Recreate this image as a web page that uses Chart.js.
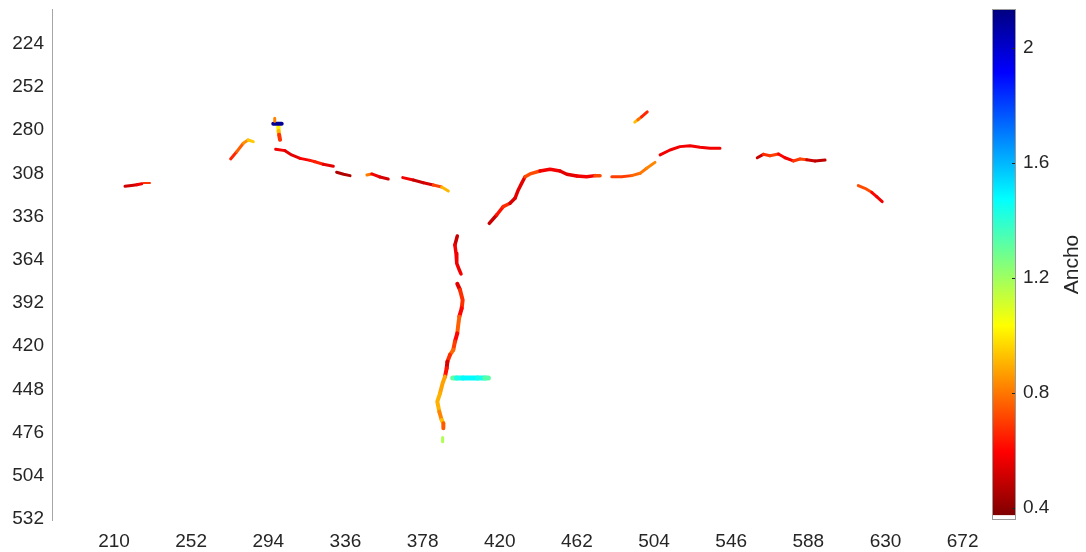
<!DOCTYPE html>
<html>
<head>
<meta charset="utf-8">
<script src="https://cdn.jsdelivr.net/npm/chart.js@4.4.1/dist/chart.umd.min.js"></script>
<style>
  html, body { margin: 0; padding: 0; background: #ffffff; }
  #wrap { width: 1086px; height: 552px; }
</style>
</head>
<body>
<div id="wrap"><canvas id="c" width="1086" height="552"></canvas></div>
<script>
// ---------- tick labels ----------
const xTicks = [210, 252, 294, 336, 378, 420, 462, 504, 546, 588, 630, 672];
const yTicks = [224, 252, 280, 308, 336, 364, 392, 420, 448, 476, 504, 532];
const cbTicks = [0.4, 0.8, 1.2, 1.6, 2];
const cbLabel = 'Ancho';

// ---------- crack traces: [x, y, ancho] ----------
const crackA1 = [[216.0,316.4,0.55],[219.5,315.9,0.48],[222.5,315.4,0.55],[225.1,314.8,0.6]];
const crackA2 = [[226.0,314.3,0.72],[229.6,314.3,0.65]];
const crackB  = [[273.5,298.7,0.6],[276.8,294.0,0.72],[280.4,288.5,0.8],[283.0,286.4,0.88],[285.8,287.5,1.0]];
const crackC1 = [[297.5,272.3,0.82],[297.5,274.3,0.82]];
const crackC2 = [[296.7,275.8,2.1],[301.3,275.8,2.1]];
const crackC3 = [[299.4,277.6,1.02],[299.6,280.5,1.0],[299.9,283.0,0.82],[300.4,286.3,0.55]];
const crackD1 = [[298.0,292.4,0.55],[303.1,293.3,0.6],[306.7,296.1,0.5],[311.3,298.3,0.6],[316.7,299.6,0.58],[319.4,300.5,0.7],[323.9,302.1,0.6],[329.4,303.4,0.5]];
const crackD2 = [[331.2,307.3,0.5],[335.0,308.6,0.42],[338.5,309.5,0.5]];
const crackD3 = [[347.7,309.1,1.02],[350.3,308.4,0.6],[354.8,310.4,0.55],[359.3,311.7,0.5]];
const crackD4 = [[367.2,310.8,0.6],[372.9,312.3,0.55],[378.4,314.1,0.45],[383.8,315.6,0.6],[388.4,316.9,0.82],[392.0,319.5,1.0]];
const crackE  = [[493.5,274.8,1.0],[495.2,273.3,0.85],[497.2,271.4,0.72],[500.3,268.2,0.6]];
const crackF1 = [[414.3,340.4,0.55],[418.3,335.0,0.45],[421.9,329.6,0.8],[425.6,327.4,0.55],[428.3,324.2,0.5],[430.1,318.8,0.6],[431.9,314.5,0.5],[433.8,310.2,0.6],[436.5,308.4,0.85],[441.9,306.5,0.6],[447.4,305.4,0.55],[452.8,306.5,0.6],[456.5,308.6,0.5],[461.9,309.7,0.6],[467.3,310.2,0.55],[471.9,309.5,0.6],[474.6,309.5,0.85]];
const crackF2 = [[481.0,310.2,0.8],[486.4,310.2,0.6],[491.8,309.5,0.8],[496.4,308.0,0.75],[500.0,304.7,0.85],[504.5,300.9,0.8]];
const crackF3 = [[507.3,296.1,0.55],[512.7,292.9,0.6],[518.1,290.7,0.55],[523.6,290.1,0.6],[529.0,291.1,0.55],[534.5,291.8,0.6],[539.9,291.8,0.55]];
const crackG  = [[560.2,297.9,0.45],[563.5,295.7,0.55],[567.1,296.6,0.8],[571.7,295.5,0.6],[575.3,297.9,0.6],[579.8,300.0,0.55],[583.5,298.7,0.82],[587.1,299.2,0.6],[591.6,300.0,0.42],[597.1,299.4,0.55]];
const crackH  = [[615.2,316.0,0.6],[618.8,317.7,0.85],[622.5,320.3,0.6],[625.2,323.1,0.6],[628.2,326.4,0.55]];
const crackI1 = [[396.9,348.6,0.45],[395.6,354.5,0.55],[396.2,359.8,0.6],[396.6,366.3,0.55],[398.0,370.7,0.6],[398.9,373.2,0.55]];
const crackI2 = [[396.9,379.7,0.5],[398.4,383.6,0.6],[399.8,390.1,0.75],[399.3,395.5,0.6],[398.0,400.9,0.6],[397.4,406.3,0.92],[396.9,411.7,0.6],[395.6,417.1,0.6],[394.7,422.5,0.8],[392.9,425.7,0.75],[391.5,430.1,0.6],[391.1,434.4,0.45],[390.2,439.8,0.8],[388.9,444.1,0.95],[387.5,450.6,0.8],[386.0,456.0,1.0],[387.1,462.5,0.8],[388.4,467.9,0.85],[389.3,470.0,1.0],[389.3,473.3,0.5]];
const crackI3 = [[388.9,479.3,1.2],[388.9,482.0,1.15]];
const crackJ  = [[394.4,440.6,1.22],[396.5,440.6,1.4],[400.0,440.6,1.48],[408.0,440.6,1.48],[412.0,440.6,1.4],[413.8,440.6,1.25]];

// ---------- axis ranges ----------
const X_MIN = 176.25, X_MAX = 701.05;
const Y_MIN = 201.5, Y_MAX = 532.7;
const CB_MIN = 0.358, CB_MAX = 2.136;
const C_LOW = 0.375; // below this the colormap is white

// ---------- styles (kept apart from data) ----------
const traces = [
  { data: crackA1, lw: 3 }, { data: crackA2, lw: 2 }, { data: crackB, lw: 3 },
  { data: crackC1, lw: 3 }, { data: crackC2, lw: 4 }, { data: crackC3, lw: 4 },
  { data: crackD1, lw: 3 }, { data: crackD2, lw: 3 }, { data: crackD3, lw: 3 }, { data: crackD4, lw: 3 },
  { data: crackE, lw: 3 },
  { data: crackF1, lw: 3.5 }, { data: crackF2, lw: 3 }, { data: crackF3, lw: 3 },
  { data: crackG, lw: 3 }, { data: crackH, lw: 3 },
  { data: crackI1, lw: 3.5 }, { data: crackI2, lw: 4 }, { data: crackI3, lw: 3 },
  { data: crackJ, lw: 5 }
];

const TEXT = '#262626';
const FONT = "'Liberation Sans', Arial, Helvetica, sans-serif";

function clamp01(v) { return Math.max(0, Math.min(1, v)); }
function jet(t) {
  const r = clamp01(1.5 - Math.abs(4 * t - 3));
  const g = clamp01(1.5 - Math.abs(4 * t - 2));
  const b = clamp01(1.5 - Math.abs(4 * t - 1));
  return 'rgb(' + Math.round(r * 255) + ',' + Math.round(g * 255) + ',' + Math.round(b * 255) + ')';
}
function valueColor(v) {
  if (v < C_LOW) return '#ffffff';
  const s = clamp01((v - C_LOW) / (CB_MAX - C_LOW));
  return jet(1 - s);
}

const datasets = traces.map(tr => ({
  data: tr.data.map(p => ({ x: p[0], y: p[1], w: p[2] })),
  showLine: true,
  pointRadius: 0,
  pointHoverRadius: 0,
  borderWidth: tr.lw,
  borderCapStyle: 'round',
  borderJoinStyle: 'round',
  borderColor: valueColor(tr.data[0][2]),
  tension: 0,
  xAxisID: 'x',
  yAxisID: 'y',
  segment: {
    borderColor: ctx => valueColor((ctx.p0.raw.w + ctx.p1.raw.w) / 2)
  }
}));

const colorbarPlugin = {
  id: 'colorbar',
  afterDraw(chart) {
    const ctx = chart.ctx, cb = chart.scales.cb, area = chart.chartArea;
    const x1 = area.right, x0 = x1 - 24;
    const yTop = cb.getPixelForValue(CB_MAX), yBot = cb.getPixelForValue(CB_MIN);
    const yLo = cb.getPixelForValue(C_LOW);
    ctx.save();
    ctx.fillStyle = '#ffffff';
    ctx.fillRect(x0, yLo, 24, yBot - yLo);
    const g = ctx.createLinearGradient(0, yLo, 0, yTop);
    [0, 0.125, 0.375, 0.625, 0.875, 1].forEach(s => g.addColorStop(s, jet(1 - s)));
    ctx.fillStyle = g;
    ctx.fillRect(x0, yTop, 24, yLo - yTop);
    ctx.strokeStyle = '#9a9a9a';
    ctx.lineWidth = 1;
    ctx.strokeRect(x0 + 0.5, yTop + 0.5, 23, yBot - yTop - 1);
    ctx.strokeStyle = TEXT;
    cbTicks.forEach(t => {
      const y = Math.round(cb.getPixelForValue(t)) + 0.5;
      ctx.beginPath();
      ctx.moveTo(x1 - 4, y);
      ctx.lineTo(x1 - 1, y);
      ctx.stroke();
    });
    ctx.fillStyle = TEXT;
    ctx.font = '21px ' + FONT;
    ctx.textAlign = 'center';
    ctx.textBaseline = 'middle';
    ctx.translate(1072, (yTop + yBot) / 2);
    ctx.rotate(-Math.PI / 2);
    ctx.fillText(cbLabel, 0, 0);
    ctx.restore();
  }
};

function noPad(s) { s.paddingTop = 0; s.paddingBottom = 0; s.paddingLeft = 0; s.paddingRight = 0; }

new Chart(document.getElementById('c'), {
  type: 'scatter',
  data: { datasets },
  plugins: [colorbarPlugin],
  options: {
    responsive: false,
    animation: false,
    devicePixelRatio: 1,
    layout: { padding: { top: 9, left: 0, right: 0, bottom: 0 } },
    plugins: { legend: { display: false }, tooltip: { enabled: false } },
    scales: {
      x: {
        type: 'linear', position: 'bottom', min: X_MIN, max: X_MAX,
        grid: { display: false, drawTicks: false },
        border: { display: false },
        afterBuildTicks: s => { s.ticks = xTicks.map(v => ({ value: v })); },
        afterFit: s => { s.height = 32; noPad(s); },
        ticks: { color: TEXT, font: { family: FONT, size: 19 }, padding: 10, maxRotation: 0, autoSkip: false }
      },
      y: {
        type: 'linear', position: 'left', min: Y_MIN, max: Y_MAX, reverse: true,
        grid: { display: false, drawTicks: false },
        border: { display: true, color: '#a6a6a6', width: 1 },
        afterBuildTicks: s => { s.ticks = yTicks.map(v => ({ value: v })); },
        afterFit: s => { s.width = 52; noPad(s); },
        ticks: { color: TEXT, font: { family: FONT, size: 19 }, padding: 8, autoSkip: false }
      },
      cb: {
        type: 'linear', position: 'right', min: CB_MIN, max: CB_MAX,
        grid: { display: false, drawTicks: false },
        border: { display: false },
        afterBuildTicks: s => { s.ticks = cbTicks.map(v => ({ value: v })); },
        afterFit: s => { s.width = 70; noPad(s); },
        ticks: { color: TEXT, font: { family: FONT, size: 19 }, padding: 7, autoSkip: false,
                 callback: v => String(v) }
      }
    }
  }
});
</script>
</body>
</html>
